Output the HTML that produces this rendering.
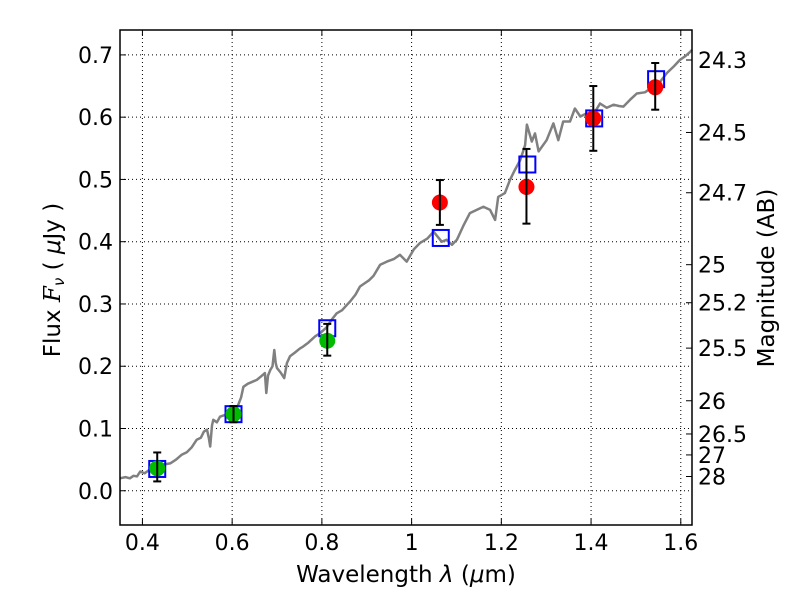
<!DOCTYPE html>
<html><head><meta charset="utf-8"><style>
body{margin:0;background:#fff;}
svg{display:block;font-family:"DejaVu Sans","Liberation Sans",sans-serif;}
</style></head><body>
<svg id="chart" width="800" height="600" viewBox="0 0 800 600" xmlns="http://www.w3.org/2000/svg"></svg>
<script>
const specWl=[0.350,0.362,0.372,0.380,0.388,0.395,0.405,0.418,0.430,0.445,0.462,0.475,0.488,0.499,0.510,0.521,0.530,0.537,0.544,0.548,0.551,0.555,0.558,0.566,0.573,0.585,0.595,0.603,0.612,0.620,0.625,0.635,0.645,0.655,0.665,0.673,0.676,0.680,0.685,0.690,0.694,0.697,0.700,0.708,0.716,0.722,0.729,0.740,0.750,0.759,0.770,0.785,0.796,0.810,0.822,0.833,0.845,0.855,0.863,0.875,0.885,0.895,0.905,0.915,0.930,0.945,0.960,0.974,0.989,1.005,1.019,1.035,1.049,1.067,1.078,1.090,1.101,1.115,1.130,1.145,1.160,1.175,1.186,1.193,1.208,1.219,1.230,1.242,1.253,1.257,1.268,1.275,1.283,1.301,1.316,1.327,1.338,1.353,1.364,1.376,1.390,1.405,1.420,1.435,1.450,1.462,1.472,1.487,1.502,1.520,1.539,1.555,1.569,1.585,1.598,1.610,1.621,1.625];
const specFlux=[0.020,0.022,0.020,0.024,0.023,0.031,0.028,0.035,0.040,0.042,0.044,0.050,0.058,0.062,0.070,0.082,0.085,0.095,0.098,0.085,0.071,0.105,0.114,0.110,0.119,0.122,0.125,0.127,0.135,0.150,0.167,0.172,0.175,0.178,0.184,0.189,0.157,0.185,0.194,0.200,0.226,0.205,0.197,0.190,0.181,0.205,0.216,0.222,0.228,0.232,0.238,0.248,0.253,0.262,0.275,0.285,0.290,0.298,0.304,0.315,0.328,0.333,0.338,0.345,0.363,0.368,0.372,0.379,0.368,0.388,0.398,0.405,0.416,0.400,0.403,0.395,0.403,0.425,0.446,0.451,0.456,0.451,0.435,0.472,0.478,0.499,0.515,0.531,0.555,0.588,0.561,0.574,0.545,0.563,0.590,0.563,0.593,0.593,0.614,0.601,0.606,0.604,0.622,0.615,0.620,0.618,0.617,0.628,0.638,0.640,0.649,0.658,0.671,0.682,0.692,0.698,0.705,0.708];
const photWl=[0.433,0.603,0.812,1.063,1.256,1.405,1.543];
const photFlux=[0.036,0.123,0.241,0.463,0.488,0.598,0.648];
const errLo=[0.015,0.110,0.217,0.427,0.429,0.546,0.612];
const errHi=[0.0615,0.136,0.268,0.499,0.549,0.650,0.687];
const photColors=["#00bb00","#00bb00","#00bb00","#ff0000","#ff0000","#ff0000","#ff0000"];
const modelWl=[0.433,0.603,0.812,1.065,1.258,1.407,1.545];
const modelFlux=[0.035,0.123,0.261,0.406,0.524,0.598,0.661];
const xTicks=[0.4,0.6,0.8,1.0,1.2,1.4,1.6];
const xTickLabels=["0.4","0.6","0.8","1","1.2","1.4","1.6"];
const yTicks=[0,0.1,0.2,0.3,0.4,0.5,0.6,0.7];
const yTickLabels=["0.0","0.1","0.2","0.3","0.4","0.5","0.6","0.7"];
const magTicks=[24.3,24.5,24.7,25,25.2,25.5,26,26.5,27,28];
const magLabels=["24.3","24.5","24.7","25","25.2","25.5","26","26.5","27","28"];

const L=120,R=692,T=30,B=525,X0=0.35,X1=1.625,Y0=-0.055,Y1=0.74;
const sx=v=>L+(v-X0)/(X1-X0)*(R-L);
const sy=v=>B-(v-Y0)/(Y1-Y0)*(B-T);
const NS="http://www.w3.org/2000/svg";
const svg=document.getElementById('chart');
function mk(tag,attrs,parent){const e=document.createElementNS(NS,tag);for(const k in attrs)e.setAttribute(k,attrs[k]);(parent||svg).appendChild(e);return e;}

const grid=mk('g',{});


xTicks.forEach(t=>{mk('line',{x1:sx(t),x2:sx(t),y1:T,y2:B,stroke:'#000','stroke-width':1,'stroke-dasharray':'1,3'},grid);});
yTicks.forEach(t=>{mk('line',{x1:L,x2:R,y1:sy(t),y2:sy(t),stroke:'#000','stroke-width':1,'stroke-dasharray':'1,3'},grid);});

let d='';specWl.forEach((w,i)=>{d+=(i?'L':'M')+sx(w).toFixed(1)+','+sy(specFlux[i]).toFixed(1);});
const spec=mk('path',{d:d,fill:'none',stroke:'#808080','stroke-width':2.5,'stroke-linejoin':'round'});



modelWl.forEach((w,i)=>{
  const r=mk('rect',{x:sx(w)-8,y:sy(modelFlux[i])-8,width:16,height:16,fill:'none',stroke:'#0000ff','stroke-width':2});
  
  
});
photWl.forEach((w,i)=>{
  const c=mk('circle',{cx:sx(w),cy:sy(photFlux[i]),r:8,fill:photColors[i]});
  
  
  const g=mk('g',{stroke:'#000','stroke-width':2});
  
  
  const x=sx(w);
  mk('line',{x1:x,x2:x,y1:sy(errLo[i]),y2:sy(errHi[i])},g);
  mk('line',{x1:x-4,x2:x+4,y1:sy(errLo[i]),y2:sy(errLo[i])},g);
  mk('line',{x1:x-4,x2:x+4,y1:sy(errHi[i]),y2:sy(errHi[i])},g);
});

const frame=mk('rect',{x:L,y:T,width:R-L,height:B-T,fill:'none',stroke:'#000','stroke-width':1.5});



xTicks.forEach((t,i)=>{
  mk('line',{x1:sx(t),x2:sx(t),y1:B,y2:B-6,stroke:'#000'});
  mk('line',{x1:sx(t),x2:sx(t),y1:T,y2:T+6,stroke:'#000'});
  const tx=mk('text',{x:sx(t),y:550,'font-size':22,'text-anchor':'middle'});
  tx.textContent=xTickLabels[i];
  
  
});
yTicks.forEach((t,i)=>{
  mk('line',{x1:L,x2:L+6,y1:sy(t),y2:sy(t),stroke:'#000'});
  const tx=mk('text',{x:113,y:sy(t)+8,'font-size':22,'text-anchor':'end'});
  tx.textContent=yTickLabels[i];
  
  
});
magTicks.forEach((m,i)=>{
  const f=Math.pow(10,(23.9-m)/2.5);
  mk('line',{x1:R,x2:R-6,y1:sy(f),y2:sy(f),stroke:'#000'});
  const tx=mk('text',{x:698,y:sy(f)+8,'font-size':22,'text-anchor':'start'});
  tx.textContent=magLabels[i];
  
  
});

const xl=mk('text',{x:406,y:582,'font-size':23,'text-anchor':'middle'});
xl.innerHTML='Wavelength  <tspan font-style="italic">λ</tspan> (<tspan font-style="italic">μ</tspan>m)';


const yl=mk('text',{x:0,y:0,'font-size':23,'text-anchor':'middle',transform:'translate(60,280) rotate(-90)'});
yl.innerHTML='Flux  <tspan font-style="italic" font-family="DejaVu Serif, serif">F</tspan><tspan font-size="15" dy="4" font-style="italic">ν</tspan><tspan dy="-4">  ( </tspan><tspan font-style="italic">μ</tspan>Jy )';


const ml=mk('text',{x:0,y:0,'font-size':23,'text-anchor':'middle',transform:'translate(774,278) rotate(-90)'});
ml.textContent='Magnitude (AB)';


</script>
</body></html>
